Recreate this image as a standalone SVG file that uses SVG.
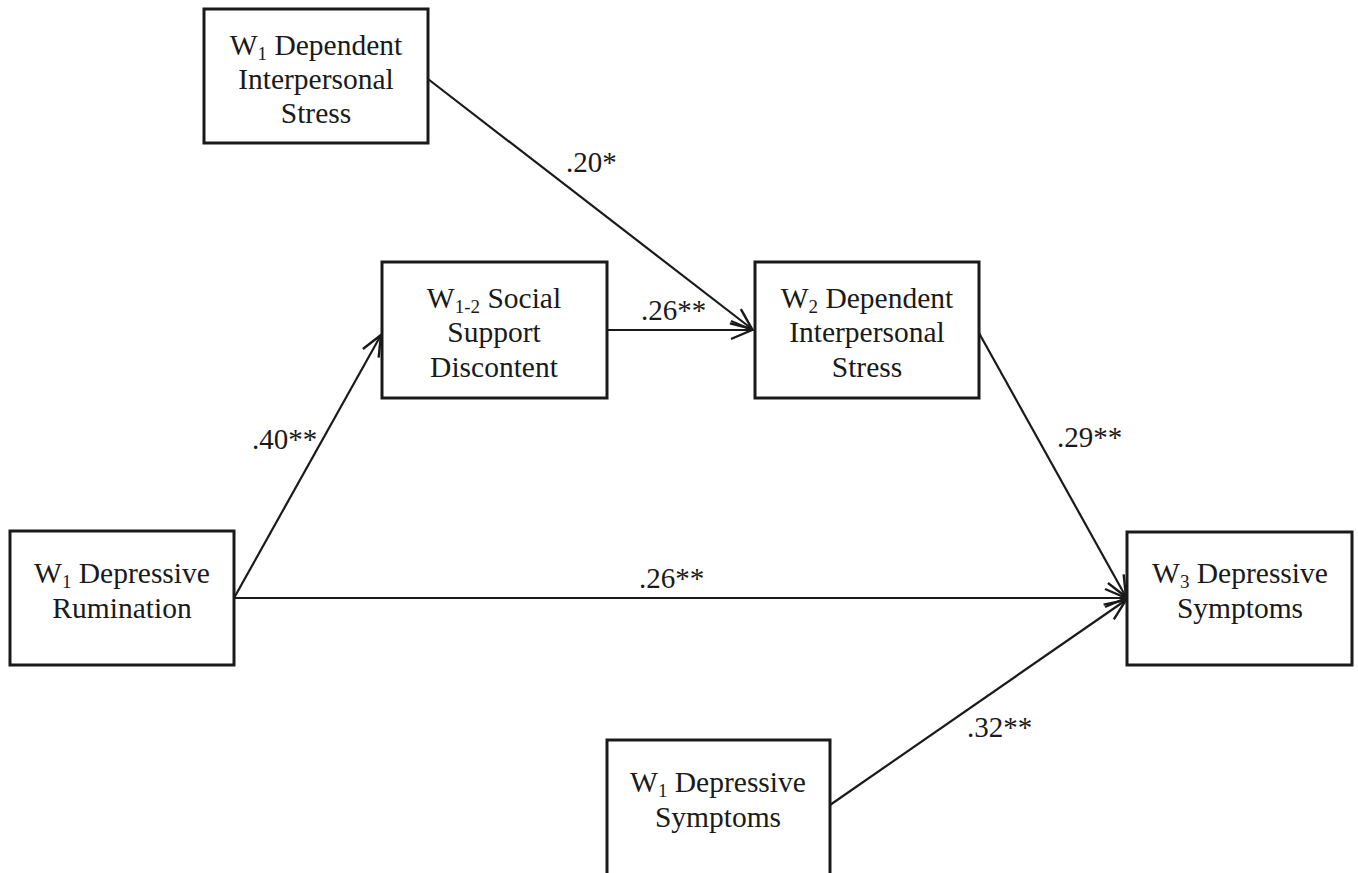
<svg xmlns="http://www.w3.org/2000/svg" width="1358" height="873" viewBox="0 0 1358 873">
<style>
.box{fill:#fff;stroke:#1a1a1a;stroke-width:3}
.t{font-family:"Liberation Serif","Times New Roman",serif;font-size:29.5px;fill:#1a1a1a;text-anchor:middle}
.sub{font-size:19px}
.lbl{font-family:"Liberation Serif","Times New Roman",serif;font-size:29px;fill:#1a1a1a}
.c{stroke:#1a1a1a;stroke-width:2.2;fill:none;marker-end:url(#arr)}
</style>
<defs>
<marker id="arr" markerUnits="userSpaceOnUse" markerWidth="30" markerHeight="30" viewBox="-25 -15 30 30" refX="0" refY="0" orient="auto">
<path d="M-21,-9 L0,0 L-21,9" fill="none" stroke="#1a1a1a" stroke-width="2.4"/>
</marker>
</defs>
<rect width="1358" height="873" fill="#fff"/>
<g id="connectors">
<line class="c" x1="428" y1="79" x2="752" y2="329"/>
<line class="c" x1="607" y1="330" x2="752" y2="330"/>
<line class="c" x1="234" y1="598" x2="381" y2="335"/>
<line class="c" x1="979" y1="333" x2="1126" y2="597"/>
<line class="c" x1="234" y1="598" x2="1126" y2="598"/>
<line class="c" x1="830" y1="805" x2="1126" y2="600"/>
<text class="lbl" x="566" y="172">.20*</text>
<text class="lbl" x="641" y="320">.26**</text>
<text class="lbl" x="252" y="449">.40**</text>
<text class="lbl" x="1057" y="447">.29**</text>
<text class="lbl" x="639" y="588">.26**</text>
<text class="lbl" x="967" y="737">.32**</text>
</g>
<g id="n1">
<rect class="box" x="204" y="9" width="224" height="134"/>
<text class="t" x="316" y="55">W<tspan class="sub" dy="5">1</tspan><tspan dy="-5"> Dependent</tspan></text>
<text class="t" x="316" y="89">Interpersonal</text>
<text class="t" x="316" y="123">Stress</text>
</g>
<g id="n2">
<rect class="box" x="382" y="262" width="225" height="136"/>
<text class="t" x="494" y="308">W<tspan class="sub" dy="5">1-2</tspan><tspan dy="-5"> Social</tspan></text>
<text class="t" x="494" y="342">Support</text>
<text class="t" x="494" y="377">Discontent</text>
</g>
<g id="n3">
<rect class="box" x="755" y="262" width="224" height="136"/>
<text class="t" x="867" y="308">W<tspan class="sub" dy="5">2</tspan><tspan dy="-5"> Dependent</tspan></text>
<text class="t" x="867" y="342">Interpersonal</text>
<text class="t" x="867" y="377">Stress</text>
</g>
<g id="n4">
<rect class="box" x="10" y="531" width="224" height="134"/>
<text class="t" x="122" y="583">W<tspan class="sub" dy="5">1</tspan><tspan dy="-5"> Depressive</tspan></text>
<text class="t" x="122" y="618">Rumination</text>
</g>
<g id="n5">
<rect class="box" x="1127" y="532" width="225" height="133"/>
<text class="t" x="1240" y="583">W<tspan class="sub" dy="5">3</tspan><tspan dy="-5"> Depressive</tspan></text>
<text class="t" x="1240" y="618">Symptoms</text>
</g>
<g id="n6">
<rect class="box" x="607" y="740" width="223" height="150"/>
<text class="t" x="718" y="792">W<tspan class="sub" dy="5">1</tspan><tspan dy="-5"> Depressive</tspan></text>
<text class="t" x="718" y="827">Symptoms</text>
</g>
</svg>
